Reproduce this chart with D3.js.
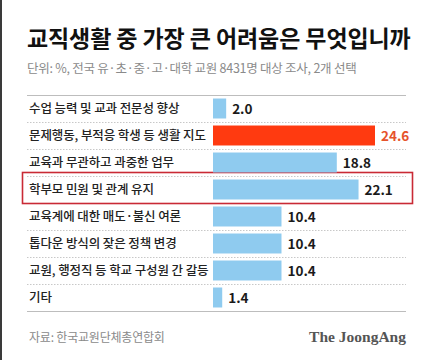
<!DOCTYPE html>
<html>
<head>
<meta charset="utf-8">
<script src="https://cdn.jsdelivr.net/npm/d3@7/dist/d3.min.js"></script>
<style>
body { margin: 0; background: #fff; }
svg { display: block; font-family: "Noto Sans CJK KR", "Noto Sans", sans-serif; }
</style>
</head>
<body>
<svg></svg>
<script>
var categories = [
  "수업 능력 및 교과 전문성 향상",
  "문제행동, 부적응 학생 등 생활 지도",
  "교육과 무관하고 과중한 업무",
  "학부모 민원 및 관계 유지",
  "교육계에 대한 매도·불신 여론",
  "톱다운 방식의 잦은 정책 변경",
  "교원, 행정직 등 학교 구성원 간 갈등",
  "기타"
];
var values = [2.0, 24.6, 18.8, 22.1, 10.4, 10.4, 10.4, 1.4];
var highlightBar = "문제행동, 부적응 학생 등 생활 지도";
var boxedRow = "학부모 민원 및 관계 유지";

var width = 433, height = 360;

var svg = d3.select("svg")
    .attr("width", width)
    .attr("height", height);

// frame edge on the left
svg.append("rect")
    .attr("x", 0).attr("y", 0)
    .attr("width", 2).attr("height", height)
    .attr("fill", "#3a3a3a");

svg.append("text")
    .attr("x", 27).attr("y", 47)
    .attr("font-size", 23)
    .attr("font-weight", 700)
    .attr("letter-spacing", -0.1)
    .attr("fill", "#111")
    .text("교직생활 중 가장 큰 어려움은 무엇입니까");

svg.append("text")
    .attr("x", 27).attr("y", 73)
    .attr("font-size", 12.5)
    .attr("letter-spacing", -0.25)
    .attr("fill", "#8a8a8a")
    .text("단위: %, 전국 유·초·중·고·대학 교원 8431명 대상 조사, 2개 선택");

var y = d3.scaleBand()
    .domain(categories)
    .range([95, 311])
    .paddingInner(0.26)
    .paddingOuter(0.13);

var x = d3.scaleLinear()
    .domain([0, 24.6])
    .range([213, 375]);

var step = y.step();

// row separators
svg.append("line")
    .attr("x1", 27).attr("x2", 406)
    .attr("y1", 95.5).attr("y2", 95.5)
    .attr("stroke", "#bdbdbd").attr("stroke-width", 1);

svg.selectAll(".sep")
    .data(categories.slice(1))
  .enter().append("line")
    .attr("class", "sep")
    .attr("x1", 27).attr("x2", 406)
    .attr("y1", function(d, i) { return Math.round(95 + step * (i + 1)) + 0.5; })
    .attr("y2", function(d, i) { return Math.round(95 + step * (i + 1)) + 0.5; })
    .attr("stroke", "#c8c8c8")
    .attr("stroke-dasharray", "1.5,1.5");

svg.append("line")
    .attr("x1", 27).attr("x2", 406)
    .attr("y1", 311.5).attr("y2", 311.5)
    .attr("stroke", "#bdbdbd").attr("stroke-width", 1.2);

// highlight box
svg.append("rect")
    .attr("x", 22.5)
    .attr("y", y(boxedRow) + y.bandwidth() / 2 - 17)
    .attr("width", 390)
    .attr("height", 31)
    .attr("fill", "none")
    .attr("stroke", "#c92a35")
    .attr("stroke-width", 1.6);

var row = svg.selectAll(".row")
    .data(categories)
  .enter().append("g")
    .attr("class", "row");

row.append("text")
    .attr("x", 29)
    .attr("y", function(d) { return y(d) + y.bandwidth() / 2 + 4.5; })
    .attr("font-size", 12.5)
    .attr("font-weight", 500)
    .attr("letter-spacing", -0.1)
    .attr("fill", "#222")
    .text(function(d) { return d; });

row.append("rect")
    .attr("x", x(0))
    .attr("y", function(d) { return y(d); })
    .attr("width", function(d, i) { return x(values[i]) - x(0); })
    .attr("height", y.bandwidth())
    .attr("fill", function(d) { return d == highlightBar ? "#ff3a10" : "#8fcbef"; });

row.append("text")
    .attr("x", function(d, i) { return x(values[i]) + 6; })
    .attr("y", function(d) { return y(d) + y.bandwidth() / 2 + 5; })
    .attr("font-size", 13.5)
    .attr("font-weight", 700)
    .attr("fill", function(d) { return d == highlightBar ? "#e6532c" : "#1a1a1a"; })
    .text(function(d, i) { return values[i].toFixed(1); });

svg.append("text")
    .attr("x", 29).attr("y", 342)
    .attr("font-size", 12)
    .attr("letter-spacing", -0.2)
    .attr("fill", "#8a8a8a")
    .text("자료: 한국교원단체총연합회");

svg.append("text")
    .attr("x", 406).attr("y", 342)
    .attr("text-anchor", "end")
    .attr("font-family", "'Liberation Serif', 'DejaVu Serif', serif")
    .attr("font-size", 15.5)
    .attr("font-weight", 700)
    .attr("fill", "#555")
    .text("The JoongAng");
</script>
</body>
</html>
